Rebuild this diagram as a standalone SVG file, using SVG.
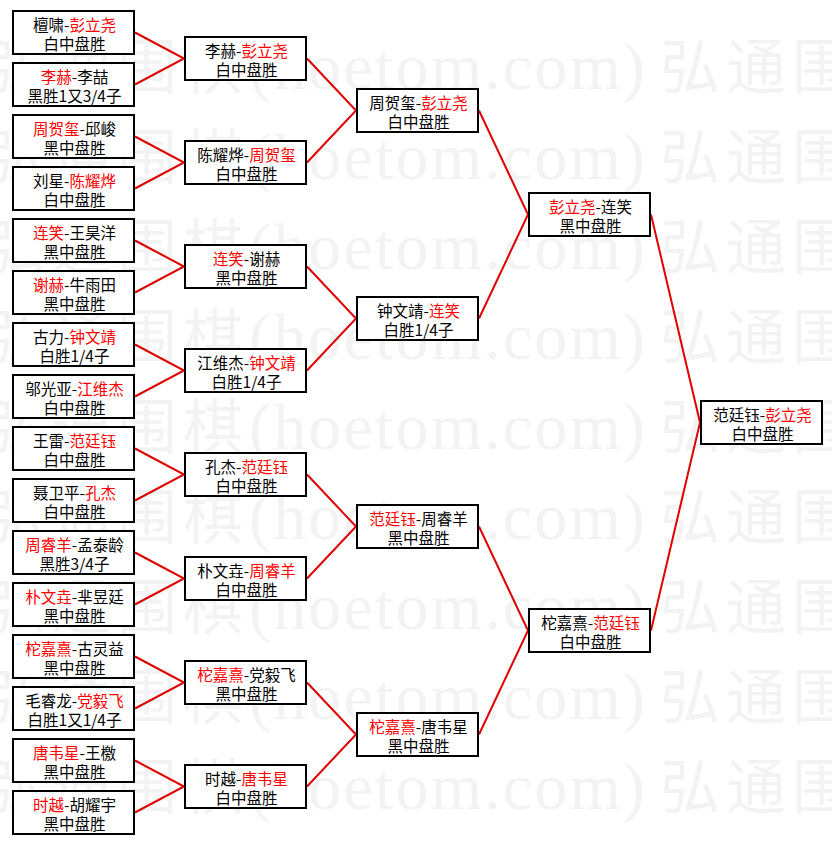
<svg xmlns="http://www.w3.org/2000/svg" xmlns:xlink="http://www.w3.org/1999/xlink" width="832" height="845" viewBox="0 0 832 845">
<style>
.bg{fill:#ffffff}
.wmc{font-family:"Noto Sans CJK SC","Noto Sans CJK JP",sans-serif;font-size:60px;letter-spacing:6px;fill:#f3f3f3}
.wma{font-family:"Liberation Serif",serif;font-size:66px;fill:#f3f3f3}
.box{fill:#ffffff;stroke:#000000;stroke-width:2}
.t{font-family:"Noto Sans CJK SC","Noto Sans CJK JP",sans-serif;font-size:15.5px;fill:#000000;text-anchor:middle}
.r{fill:#ff0000}
.link{fill:none;stroke:#e00000;stroke-width:2}
</style>
<defs>
<g id="wmrow">
<text class="wmc" x="-15" y="0">弘通围棋</text>
<text class="wma" x="249" y="0" textLength="396" lengthAdjust="spacing">(hoetom.com)</text>
<text class="wmc" x="660" y="0">弘通围棋</text>
</g>
</defs>
<rect class="bg" x="0" y="0" width="832" height="845"/>
<g id="watermark">
<use xlink:href="#wmrow" href="#wmrow" x="0" y="89"/>
<use xlink:href="#wmrow" href="#wmrow" x="0" y="179"/>
<use xlink:href="#wmrow" href="#wmrow" x="0" y="269"/>
<use xlink:href="#wmrow" href="#wmrow" x="0" y="359"/>
<use xlink:href="#wmrow" href="#wmrow" x="0" y="449"/>
<use xlink:href="#wmrow" href="#wmrow" x="0" y="539"/>
<use xlink:href="#wmrow" href="#wmrow" x="0" y="629"/>
<use xlink:href="#wmrow" href="#wmrow" x="0" y="719"/>
<use xlink:href="#wmrow" href="#wmrow" x="0" y="809"/>
</g>
<g id="connectors">
<polyline class="link" points="135,32.5 184,58.5 135,84.5"/>
<polyline class="link" points="135,136.5 184,162.5 135,188.5"/>
<polyline class="link" points="135,240.5 184,266.5 135,292.5"/>
<polyline class="link" points="135,344.5 184,370.5 135,396.5"/>
<polyline class="link" points="135,448.5 184,474.5 135,500.5"/>
<polyline class="link" points="135,552.5 184,578.5 135,604.5"/>
<polyline class="link" points="135,656.5 184,682.5 135,708.5"/>
<polyline class="link" points="135,760.5 184,786.5 135,812.5"/>
<polyline class="link" points="307,58.5 356,110.5 307,162.5"/>
<polyline class="link" points="307,266.5 356,318.5 307,370.5"/>
<polyline class="link" points="307,474.5 356,526.5 307,578.5"/>
<polyline class="link" points="307,682.5 356,734.5 307,786.5"/>
<polyline class="link" points="479,110.5 528,214.5 479,318.5"/>
<polyline class="link" points="479,526.5 528,630.5 479,734.5"/>
<polyline class="link" points="651,214.5 700,422.5 651,630.5"/>
</g>
<g id="r1-1" transform="translate(12,10)"><rect class="box" x="1" y="1" width="121" height="43"/><text class="t" x="62.5" y="21">檀啸-<tspan class="r">彭立尧</tspan><tspan x="62.5" dy="19">白中盘胜</tspan></text></g>
<g id="r1-2" transform="translate(12,62)"><rect class="box" x="1" y="1" width="121" height="43"/><text class="t" x="62.5" y="21"><tspan class="r">李赫</tspan>-李喆<tspan x="62.5" dy="19">黑胜1又3/4子</tspan></text></g>
<g id="r1-3" transform="translate(12,114)"><rect class="box" x="1" y="1" width="121" height="43"/><text class="t" x="62.5" y="21"><tspan class="r">周贺玺</tspan>-邱峻<tspan x="62.5" dy="19">黑中盘胜</tspan></text></g>
<g id="r1-4" transform="translate(12,166)"><rect class="box" x="1" y="1" width="121" height="43"/><text class="t" x="62.5" y="21">刘星-<tspan class="r">陈耀烨</tspan><tspan x="62.5" dy="19">白中盘胜</tspan></text></g>
<g id="r1-5" transform="translate(12,218)"><rect class="box" x="1" y="1" width="121" height="43"/><text class="t" x="62.5" y="21"><tspan class="r">连笑</tspan>-王昊洋<tspan x="62.5" dy="19">黑中盘胜</tspan></text></g>
<g id="r1-6" transform="translate(12,270)"><rect class="box" x="1" y="1" width="121" height="43"/><text class="t" x="62.5" y="21"><tspan class="r">谢赫</tspan>-牛雨田<tspan x="62.5" dy="19">黑中盘胜</tspan></text></g>
<g id="r1-7" transform="translate(12,322)"><rect class="box" x="1" y="1" width="121" height="43"/><text class="t" x="62.5" y="21">古力-<tspan class="r">钟文靖</tspan><tspan x="62.5" dy="19">白胜1/4子</tspan></text></g>
<g id="r1-8" transform="translate(12,374)"><rect class="box" x="1" y="1" width="121" height="43"/><text class="t" x="62.5" y="21">邬光亚-<tspan class="r">江维杰</tspan><tspan x="62.5" dy="19">白中盘胜</tspan></text></g>
<g id="r1-9" transform="translate(12,426)"><rect class="box" x="1" y="1" width="121" height="43"/><text class="t" x="62.5" y="21">王雷-<tspan class="r">范廷钰</tspan><tspan x="62.5" dy="19">白中盘胜</tspan></text></g>
<g id="r1-10" transform="translate(12,478)"><rect class="box" x="1" y="1" width="121" height="43"/><text class="t" x="62.5" y="21">聂卫平-<tspan class="r">孔杰</tspan><tspan x="62.5" dy="19">白中盘胜</tspan></text></g>
<g id="r1-11" transform="translate(12,530)"><rect class="box" x="1" y="1" width="121" height="43"/><text class="t" x="62.5" y="21"><tspan class="r">周睿羊</tspan>-孟泰龄<tspan x="62.5" dy="19">黑胜3/4子</tspan></text></g>
<g id="r1-12" transform="translate(12,582)"><rect class="box" x="1" y="1" width="121" height="43"/><text class="t" x="62.5" y="21"><tspan class="r">朴文垚</tspan>-芈昱廷<tspan x="62.5" dy="19">黑中盘胜</tspan></text></g>
<g id="r1-13" transform="translate(12,634)"><rect class="box" x="1" y="1" width="121" height="43"/><text class="t" x="62.5" y="21"><tspan class="r">柁嘉熹</tspan>-古灵益<tspan x="62.5" dy="19">黑中盘胜</tspan></text></g>
<g id="r1-14" transform="translate(12,686)"><rect class="box" x="1" y="1" width="121" height="43"/><text class="t" x="62.5" y="21">毛睿龙-<tspan class="r">党毅飞</tspan><tspan x="62.5" dy="19">白胜1又1/4子</tspan></text></g>
<g id="r1-15" transform="translate(12,738)"><rect class="box" x="1" y="1" width="121" height="43"/><text class="t" x="62.5" y="21"><tspan class="r">唐韦星</tspan>-王檄<tspan x="62.5" dy="19">黑中盘胜</tspan></text></g>
<g id="r1-16" transform="translate(12,790)"><rect class="box" x="1" y="1" width="121" height="43"/><text class="t" x="62.5" y="21"><tspan class="r">时越</tspan>-胡耀宇<tspan x="62.5" dy="19">黑中盘胜</tspan></text></g>
<g id="r2-1" transform="translate(184,36)"><rect class="box" x="1" y="1" width="121" height="43"/><text class="t" x="62.5" y="21">李赫-<tspan class="r">彭立尧</tspan><tspan x="62.5" dy="19">白中盘胜</tspan></text></g>
<g id="r2-2" transform="translate(184,140)"><rect class="box" x="1" y="1" width="121" height="43"/><text class="t" x="62.5" y="21">陈耀烨-<tspan class="r">周贺玺</tspan><tspan x="62.5" dy="19">白中盘胜</tspan></text></g>
<g id="r2-3" transform="translate(184,244)"><rect class="box" x="1" y="1" width="121" height="43"/><text class="t" x="62.5" y="21"><tspan class="r">连笑</tspan>-谢赫<tspan x="62.5" dy="19">黑中盘胜</tspan></text></g>
<g id="r2-4" transform="translate(184,348)"><rect class="box" x="1" y="1" width="121" height="43"/><text class="t" x="62.5" y="21">江维杰-<tspan class="r">钟文靖</tspan><tspan x="62.5" dy="19">白胜1/4子</tspan></text></g>
<g id="r2-5" transform="translate(184,452)"><rect class="box" x="1" y="1" width="121" height="43"/><text class="t" x="62.5" y="21">孔杰-<tspan class="r">范廷钰</tspan><tspan x="62.5" dy="19">白中盘胜</tspan></text></g>
<g id="r2-6" transform="translate(184,556)"><rect class="box" x="1" y="1" width="121" height="43"/><text class="t" x="62.5" y="21">朴文垚-<tspan class="r">周睿羊</tspan><tspan x="62.5" dy="19">白中盘胜</tspan></text></g>
<g id="r2-7" transform="translate(184,660)"><rect class="box" x="1" y="1" width="121" height="43"/><text class="t" x="62.5" y="21"><tspan class="r">柁嘉熹</tspan>-党毅飞<tspan x="62.5" dy="19">黑中盘胜</tspan></text></g>
<g id="r2-8" transform="translate(184,764)"><rect class="box" x="1" y="1" width="121" height="43"/><text class="t" x="62.5" y="21">时越-<tspan class="r">唐韦星</tspan><tspan x="62.5" dy="19">白中盘胜</tspan></text></g>
<g id="r3-1" transform="translate(356,88)"><rect class="box" x="1" y="1" width="121" height="43"/><text class="t" x="62.5" y="21">周贺玺-<tspan class="r">彭立尧</tspan><tspan x="62.5" dy="19">白中盘胜</tspan></text></g>
<g id="r3-2" transform="translate(356,296)"><rect class="box" x="1" y="1" width="121" height="43"/><text class="t" x="62.5" y="21">钟文靖-<tspan class="r">连笑</tspan><tspan x="62.5" dy="19">白胜1/4子</tspan></text></g>
<g id="r3-3" transform="translate(356,504)"><rect class="box" x="1" y="1" width="121" height="43"/><text class="t" x="62.5" y="21"><tspan class="r">范廷钰</tspan>-周睿羊<tspan x="62.5" dy="19">黑中盘胜</tspan></text></g>
<g id="r3-4" transform="translate(356,712)"><rect class="box" x="1" y="1" width="121" height="43"/><text class="t" x="62.5" y="21"><tspan class="r">柁嘉熹</tspan>-唐韦星<tspan x="62.5" dy="19">黑中盘胜</tspan></text></g>
<g id="r4-1" transform="translate(528,192)"><rect class="box" x="1" y="1" width="121" height="43"/><text class="t" x="62.5" y="21"><tspan class="r">彭立尧</tspan>-连笑<tspan x="62.5" dy="19">黑中盘胜</tspan></text></g>
<g id="r4-2" transform="translate(528,608)"><rect class="box" x="1" y="1" width="121" height="43"/><text class="t" x="62.5" y="21">柁嘉熹-<tspan class="r">范廷钰</tspan><tspan x="62.5" dy="19">白中盘胜</tspan></text></g>
<g id="final" transform="translate(700,400)"><rect class="box" x="1" y="1" width="121" height="43"/><text class="t" x="62.5" y="21">范廷钰-<tspan class="r">彭立尧</tspan><tspan x="62.5" dy="19">白中盘胜</tspan></text></g>
</svg>
